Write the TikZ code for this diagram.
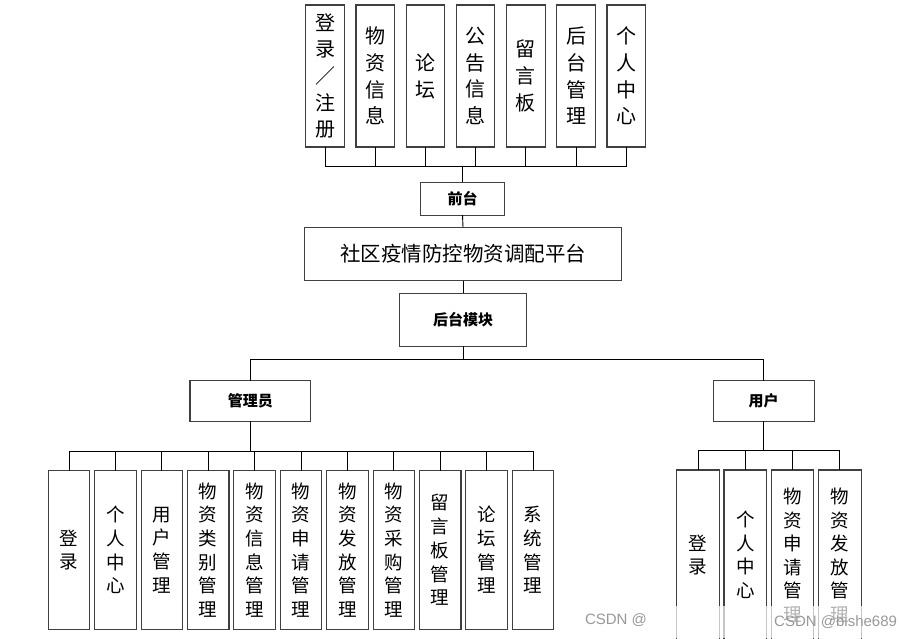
\documentclass[tikz,border=0pt]{standalone}
\usepackage{fontspec}
\newfontfamily\cjk{Noto Sans CJK SC}
\setsansfont{Liberation Sans}
\begin{document}
\begin{tikzpicture}[x=1pt,y=-1pt,
  every node/.style={font=\cjk, inner sep=0pt, outer sep=0pt},
  box/.style={draw=black!75, line width=1.1pt, fill=white, rectangle, align=center},
  topbox/.style={box, minimum width=38.5pt, minimum height=142pt, font=\cjk\fontsize{20}{26.7}\selectfont},
  midbox/.style={box, font=\cjk\bfseries\fontsize{15}{18}\selectfont},
  leafbox/.style={box, minimum width=41.5pt, minimum height=158.3pt, font=\cjk\fontsize{18.5}{23.7}\selectfont},
  uleafbox/.style={box, minimum width=42.6pt, minimum height=170pt, font=\cjk\fontsize{18.5}{23.5}\selectfont},
  conn/.style={draw=black, line width=0.9pt}
]
\useasboundingbox (0,0) rectangle (899,638);
\fill[white] (0,0) rectangle (899,638);

% top row
\node[topbox] (t1) at (325,76) {登\\录\\／\\注\\册};
\node[topbox] (t2) at (375.2,76) {物\\资\\信\\息};
\node[topbox] (t3) at (425.4,76) {论\\坛};
\node[topbox] (t4) at (475.6,76) {公\\告\\信\\息};
\node[topbox] (t5) at (525.8,76) {留\\言\\板};
\node[topbox] (t6) at (576,76) {后\\台\\管\\理};
\node[topbox] (t7) at (626.2,76) {个\\人\\中\\心};

\node[midbox, minimum width=84.7pt, minimum height=32.7pt] (front) at (462.5,198.7) {前台};
\node[box, minimum width=317.7pt, minimum height=53.4pt, font=\cjk\fontsize{20.5}{24}\selectfont] (main) at (463,254) {社区疫情防控物资调配平台};
\node[midbox, minimum width=127.4pt, minimum height=52.7pt] (back) at (463,319.7) {后台模块};
\node[midbox, minimum width=120.7pt, minimum height=40.3pt] (admin) at (250.3,401) {管理员};
\node[midbox, minimum width=100.7pt, minimum height=40.3pt] (user) at (763.7,401) {用户};

% admin leaves
\node[leafbox] (a1) at (69,550) {登\\录};
\node[leafbox] (a2) at (115.4,550) {个\\人\\中\\心};
\node[leafbox] (a3) at (161.8,550) {用\\户\\管\\理};
\node[leafbox] (a4) at (208.2,550) {物\\资\\类\\别\\管\\理};
\node[leafbox] (a5) at (254.6,550) {物\\资\\信\\息\\管\\理};
\node[leafbox] (a6) at (301,550) {物\\资\\申\\请\\管\\理};
\node[leafbox] (a7) at (347.4,550) {物\\资\\发\\放\\管\\理};
\node[leafbox] (a8) at (393.8,550) {物\\资\\采\\购\\管\\理};
\node[leafbox] (a9) at (440.2,550) {留\\言\\板\\管\\理};
\node[leafbox] (a10) at (486.6,550) {论\\坛\\管\\理};
\node[leafbox] (a11) at (533,550) {系\\统\\管\\理};

% user leaves
\node[uleafbox] (u1) at (698,555) {登\\录};
\node[uleafbox] (u2) at (745.3,555) {个\\人\\中\\心};
\node[uleafbox] (u3) at (792.6,555) {物\\资\\申\\请\\管\\理};
\node[uleafbox] (u4) at (839.9,555) {物\\资\\发\\放\\管\\理};

% buses
\coordinate (bustop) at (0,166.7);
\coordinate (busmid) at (0,359);
\coordinate (busadm) at (0,451);
\coordinate (bususr) at (0,450.7);

\foreach \i in {1,...,7} \draw[conn] (t\i.south) -- (t\i.south |- bustop);
\draw[conn] (t1.south |- bustop) -- (t7.south |- bustop);
\draw[conn] (front.north) -- (front.north |- bustop);
\draw[conn] (front.south) -- (main.north);
\draw[conn] (main.south) -- (back.north);
\draw[conn] (back.south) -- (back.south |- busmid);
\draw[conn] (admin.north |- busmid) -- (user.north |- busmid);
\draw[conn] (admin.north) -- (admin.north |- busmid);
\draw[conn] (user.north) -- (user.north |- busmid);

\draw[conn] (admin.south) -- (admin.south |- busadm);
\draw[conn] (a1.north |- busadm) -- (a11.north |- busadm);
\foreach \i in {1,...,11} \draw[conn] (a\i.north) -- (a\i.north |- busadm);

\draw[conn] (user.south) -- (user.south |- bususr);
\draw[conn] (u1.north |- bususr) -- (u4.north |- bususr);
\foreach \i in {1,...,4} \draw[conn] (u\i.north) -- (u\i.north |- bususr);

% watermark band
\fill[white, opacity=0.7] (578,606) rectangle (899,638);
\node[font=\sffamily\fontsize{15}{18}\selectfont, text=black!40, anchor=west] (wm1) at (585,620) {CSDN @};
\node[font=\sffamily\fontsize{15}{18}\selectfont, text=black!40, anchor=east] (wm2) at (897,622) {CSDN @bishe689};
\end{tikzpicture}
\end{document}
